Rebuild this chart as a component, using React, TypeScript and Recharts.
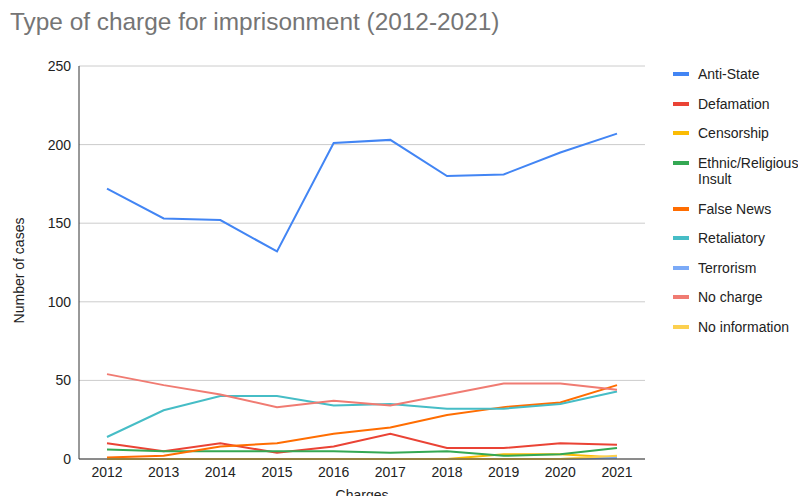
import React from 'react';
import { LineChart, Line, XAxis, YAxis, CartesianGrid, Label } from 'recharts';

const FONT = "'Liberation Sans', Arial, sans-serif";

const years = ['2012', '2013', '2014', '2015', '2016', '2017', '2018', '2019', '2020', '2021'];
const yTicks = [0, 50, 100, 150, 200, 250];

const antiState = [172, 153, 152, 132, 201, 203, 180, 181, 195, 207];
const defamation = [10, 5, 10, 4, 8, 16, 7, 7, 10, 9];
const censorship = [0, 0, 0, 0, 0, 0, 0, 3, 3, 1];
const ethnicReligious = [6, 5, 5, 5, 5, 4, 5, 2, 3, 7];
const falseNews = [1, 2, 8, 10, 16, 20, 28, 33, 36, 47];
const retaliatory = [14, 31, 40, 40, 34, 35, 32, 32, 35, 43];
const terrorism = [0, 0, 0, 0, 0, 0, 0, 0, 0, 1];
const noCharge = [54, 47, 41, 33, 37, 34, 41, 48, 48, 44];
const noInformation = [0, 0, 0, 0, 0, 0, 0, 0, 0, 2];

const SERIES = [
  { key: 'antiState', name: 'Anti-State', color: '#4285f4', values: antiState },
  { key: 'defamation', name: 'Defamation', color: '#ea4335', values: defamation },
  { key: 'censorship', name: 'Censorship', color: '#fbbc04', values: censorship },
  { key: 'ethnic', name: 'Ethnic/Religious Insult', color: '#34a853', values: ethnicReligious },
  { key: 'falseNews', name: 'False News', color: '#ff6d01', values: falseNews },
  { key: 'retaliatory', name: 'Retaliatory', color: '#46bdc6', values: retaliatory },
  { key: 'terrorism', name: 'Terrorism', color: '#7baaf7', values: terrorism },
  { key: 'noCharge', name: 'No charge', color: '#f07b72', values: noCharge },
  { key: 'noInfo', name: 'No information', color: '#fcd04f', values: noInformation },
];

const data = years.map((year, i) => {
  const row: any = { year };
  SERIES.forEach((s) => { row[s.key] = s.values[i]; });
  return row;
});

const tickStyle = { fontSize: 14, fill: '#222222', fontFamily: FONT };

// legend sits to the right of the plot, outside the svg so it doesn't shrink the plot
function LegendList() {
  return (
    <div style={{ position: 'absolute', left: 673, top: 66, width: 130, fontFamily: FONT, fontSize: 14, color: '#222222' }}>
      {SERIES.map((s) => (
        <div key={s.key} style={{ display: 'flex', alignItems: 'flex-start', marginBottom: 13 }}>
          <div style={{ width: 16, height: 4, marginTop: 6, background: s.color, flexShrink: 0 }} />
          <div style={{ marginLeft: 9, lineHeight: '16.5px', width: 105 }}>{s.name}</div>
        </div>
      ))}
    </div>
  );
}

export default function App() {
  return (
    <div style={{ position: 'relative', width: 806, height: 504, margin: -8, background: '#fff', overflow: 'hidden' }}>
      <div style={{ position: 'absolute', left: 10, top: 8, fontFamily: FONT, fontSize: 24.4, color: '#757575', whiteSpace: 'nowrap' }}>
        Type of charge for imprisonment (2012-2021)
      </div>
      <LineChart width={806} height={504} data={data} margin={{ top: 66, right: 161, bottom: 0, left: 19 }}>
        <CartesianGrid vertical={false} stroke="#cccccc" />
        <XAxis
          dataKey="year"
          padding={{ left: 28, right: 28 }}
          tick={tickStyle}
          tickLine={false}
          axisLine={{ stroke: '#333333' }}
          height={45}
        >
          <Label value="Charges" position="insideBottom" offset={4} style={{ fontSize: 14, fill: '#222222', fontFamily: FONT }} />
        </XAxis>
        <YAxis
          domain={[0, 250]}
          ticks={yTicks}
          tick={tickStyle}
          tickLine={false}
          axisLine={{ stroke: '#333333' }}
          width={60}
        >
          <Label value="Number of cases" angle={-90} position="center" dx={-30} dy={8} style={{ fontSize: 14, fill: '#222222', fontFamily: FONT, textAnchor: 'middle' }} />
        </YAxis>
        {SERIES.map((s) => (
          <Line
            key={s.key}
            type="linear"
            dataKey={s.key}
            name={s.name}
            stroke={s.color}
            strokeWidth={2}
            dot={false}
            isAnimationActive={false}
          />
        ))}
      </LineChart>
      <LegendList />
    </div>
  );
}
